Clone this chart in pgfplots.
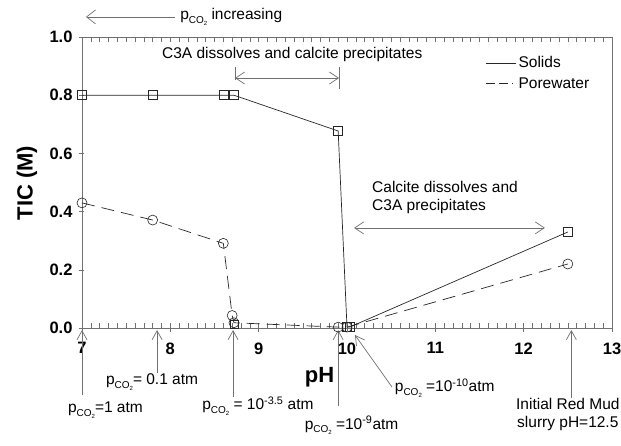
\documentclass[border=0pt]{standalone}
\usepackage{pgfplots}
\pgfplotsset{compat=1.18}
\usepackage{fontspec}
\setmainfont{Liberation Sans}
\usetikzlibrary{arrows.meta}
\definecolor{axisgray}{HTML}{707070}
\definecolor{linegray}{HTML}{262626}
\newcommand{\pco}{p\raisebox{-3.5pt}{\fontsize{10}{10}\selectfont CO\raisebox{-2pt}{\fontsize{6}{6}\selectfont 2}}}
\newcommand{\afont}{\fontsize{15.5}{18}\selectfont}
\begin{document}
\begin{tikzpicture}[x=1pt,y=1pt]
\path[use as bounding box] (-82,-117) rectangle (539,328);
\begin{axis}[
  at={(0,0)}, anchor=south west,
  scale only axis, width=530pt, height=291pt,
  xmin=7, xmax=13, ymin=0, ymax=1,
  clip=false,
  axis line style={draw=axisgray, line width=0.8pt},
  xtick={7,8,...,13}, minor x tick num=9,
  ytick={0,0.2,0.4,0.6,0.8,1.0},
  xtick pos=both, ytick pos=left,
  tick align=inside,
  major tick length=5pt, minor tick length=5pt,
  tick style={axisgray, line width=0.6pt},
  y tick style={xshift=-3pt},
  /pgf/number format/assume math mode=true,
  yticklabel={\pgfmathprintnumber[fixed,fixed zerofill,precision=1]{\tick}},
  xticklabel style={font=\bfseries\fontsize{16.5}{16.5}\selectfont, yshift=-11pt},
  yticklabel style={font=\bfseries\fontsize{16.5}{16.5}\selectfont, xshift=-6pt},
  legend style={at={(axis cs:11.57,0.94)}, anchor=north west, draw=none, fill=none,
    font=\afont, row sep=4pt, inner sep=0pt},
  legend cell align=left,
]
\addplot[linegray, line width=0.7pt, mark=square, mark size=4.5pt, mark options={solid, line width=0.6pt}, forget plot]
coordinates {(7,0.80) (7.8,0.80) (8.6,0.80) (8.72,0.80) (9.9,0.677) (10.0,0.003) (10.03,0.003) (12.5,0.33)};
\addplot[linegray, line width=0.7pt, dash pattern=on 13pt off 7pt, mark=o, mark size=5pt, mark options={solid, line width=0.6pt}, forget plot]
coordinates {(7,0.43) (7.8,0.371) (8.6,0.291) (8.7,0.043) (8.72,0.018) (9.9,0.003) (10.0,0.003) (12.5,0.22)};
\addplot[linegray, only marks, mark=square, mark size=4pt, mark options={line width=0.6pt}, forget plot]
coordinates {(8.72,0.012)};
\addlegendimage{legend image code/.code={\draw[linegray, line width=0.7pt] (0pt,0pt) -- (30pt,0pt);}}
\addlegendentry{Solids}
\addlegendimage{legend image code/.code={\draw[linegray, line width=0.7pt, dash pattern=on 9pt off 4pt on 9pt off 4pt on 1pt off 3pt] (0pt,0pt) -- (30pt,0pt);}}
\addlegendentry{Porewater}
% annotations
\draw[axisgray, line width=0.7pt, -{Straight Barb[length=9pt,width=14pt]}] (axis cs:8.053,1.069) -- (axis cs:7.045,1.069);
\node[anchor=west, font=\afont, inner sep=0pt] at (axis cs:8.11,1.069) {\pco{} increasing};
\node[font=\afont, inner sep=0pt] at (axis cs:9.38,0.94) {C3A dissolves and calcite precipitates};
\draw[axisgray, line width=0.7pt] (axis cs:8.732,0.897) -- (axis cs:8.732,0.852);
\draw[axisgray, line width=0.7pt] (axis cs:9.91,0.897) -- (axis cs:9.91,0.821);
\draw[axisgray, line width=0.7pt, {Straight Barb[length=9pt,width=12pt]}-{Straight Barb[length=9pt,width=12pt]}] (axis cs:8.732,0.859) -- (axis cs:9.91,0.859);
\node[anchor=west, font=\afont, inner sep=0pt, align=left] at (axis cs:10.283,0.45) {Calcite dissolves and\\C3A precipitates};
\draw[axisgray, line width=0.7pt, {Straight Barb[length=9pt,width=12pt]}-{Straight Barb[length=9pt,width=12pt]}] (axis cs:10.08,0.344) -- (axis cs:12.24,0.344);
% bottom arrows
\draw[axisgray, line width=0.7pt, -{Straight Barb[length=9pt,width=10pt]}] (axis cs:7.0,-0.230) -- (axis cs:7.0,-0.007);
\node[anchor=west, font=\afont, inner sep=0pt] at (axis cs:6.84,-0.282) {\pco=1 atm};
\draw[axisgray, line width=0.7pt, -{Straight Barb[length=9pt,width=10pt]}] (axis cs:7.85,-0.155) -- (axis cs:7.85,-0.007);
\node[anchor=west, font=\afont, inner sep=0pt] at (axis cs:7.27,-0.186) {\pco= 0.1 atm};
\draw[axisgray, line width=0.7pt, -{Straight Barb[length=9pt,width=10pt]}] (axis cs:8.71,-0.237) -- (axis cs:8.71,-0.007);
\node[anchor=west, font=\afont, inner sep=0pt] at (axis cs:8.36,-0.268) {\pco{} = 10\textsuperscript{-3.5} atm};
\draw[axisgray, line width=0.7pt, -{Straight Barb[length=9pt,width=10pt]}] (axis cs:9.90,-0.268) -- (axis cs:9.90,-0.007);
\node[anchor=west, font=\afont, inner sep=0pt] at (axis cs:9.52,-0.335) {\pco{} =10\textsuperscript{-9}atm};
\draw[axisgray, line width=0.7pt, -{Straight Barb[length=9pt,width=10pt]}] (axis cs:10.51,-0.203) -- (axis cs:10.09,-0.024);
\node[anchor=west, font=\afont, inner sep=0pt] at (axis cs:10.54,-0.206) {\pco{} =10\textsuperscript{-10}atm};
\draw[axisgray, line width=0.7pt, -{Straight Barb[length=9pt,width=10pt]}] (axis cs:12.54,-0.240) -- (axis cs:12.54,-0.007);
\node[font=\afont, inner sep=0pt, align=center] at (axis cs:12.5,-0.296) {Initial Red Mud\\slurry pH=12.5};
% axis titles
\node[font=\bfseries\fontsize{22}{22}\selectfont, inner sep=0pt] at (axis cs:9.69,-0.17) {pH};
\node[font=\bfseries\fontsize{22}{22}\selectfont, inner sep=0pt, rotate=90] at (axis cs:6.377,0.498) {TIC (M)};
\end{axis}
\begin{axis}[
  at={(0,0)}, anchor=south west,
  scale only axis, width=530pt, height=291pt,
  xmin=7, xmax=13, ymin=0, ymax=1,
  axis line style={draw=none},
  xtick={7,8,...,13}, xticklabels={}, ytick=\empty,
  xtick pos=bottom, tick align=outside, major tick length=4pt,
  tick style={axisgray, line width=0.6pt},
]
\end{axis}
\end{tikzpicture}
\end{document}
